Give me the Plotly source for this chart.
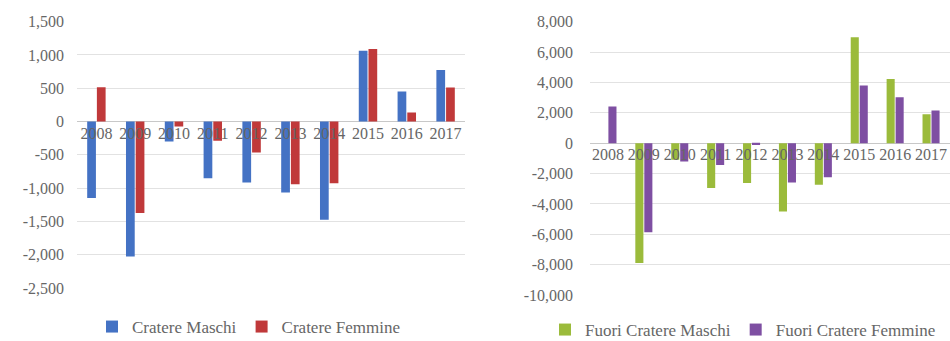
import plotly.graph_objects as go

years = ["2008", "2009", "2010", "2011", "2012", "2013", "2014", "2015", "2016", "2017"]

cratere_maschi = [-1150, -2025, -300, -850, -915, -1065, -1475, 1065, 450, 775]
cratere_femmine = [515, -1375, -75, -290, -465, -940, -925, 1090, 135, 510]

fuori_maschi = [0, -7900, -1100, -2960, -2630, -4500, -2740, 6970, 4230, 1910]
fuori_femmine = [2410, -5860, -1200, -1430, -120, -2590, -2240, 3800, 3030, 2150]

left_ticks = [1500, 1000, 500, 0, -500, -1000, -1500, -2000, -2500]
left_ticktext = ["1,500", "1,000", "500", "0", "-500", "-1,000", "-1,500", "-2,000", "-2,500"]
right_ticks = [8000, 6000, 4000, 2000, 0, -2000, -4000, -6000, -8000, -10000]
right_ticktext = ["8,000", "6,000", "4,000", "2,000", "0", "-2,000", "-4,000", "-6,000", "-8,000", "-10,000"]

W, H = 950, 341
FONT = "Liberation Serif"
TXT = "#666666"

fig = go.Figure()
fig.add_trace(go.Bar(x=years, y=cratere_maschi, name="Cratere Maschi", marker_color="#4472C4",
                     xaxis="x", yaxis="y", legend="legend"))
fig.add_trace(go.Bar(x=years, y=cratere_femmine, name="Cratere Femmine", marker_color="#C0393A",
                     xaxis="x", yaxis="y", legend="legend"))
fig.add_trace(go.Bar(x=years, y=fuori_maschi, name="Fuori Cratere Maschi", marker_color="#9BBB3B",
                     xaxis="x2", yaxis="y2", legend="legend2"))
fig.add_trace(go.Bar(x=years, y=fuori_femmine, name="Fuori Cratere Femmine", marker_color="#7E4FA2",
                     xaxis="x2", yaxis="y2", legend="legend2"))

# left plot geometry (pixels)
lx0, lx1 = 77, 465
ly_top, ly_bot = 21.7, 288
# right plot geometry
rx0, rx1 = 590, 950
r_cat = 35.9
ry_top, ry_bot = 21.7, 295

ldom_y = [1 - ly_bot / H, 1 - ly_top / H]
rdom_y = [1 - ry_bot / H, 1 - ry_top / H]
lzero = ldom_y[0] + (2500 / 4000) * (ldom_y[1] - ldom_y[0])
rzero = rdom_y[0] + (10000 / 18000) * (rdom_y[1] - rdom_y[0])

tickfont_x = dict(family=FONT, size=16, color=TXT)
tickfont_y = dict(family=FONT, size=16, color=TXT)

fig.update_layout(
    template="none",
    width=W, height=H,
    margin=dict(l=0, r=0, t=0, b=0, pad=0, autoexpand=False),
    paper_bgcolor="white", plot_bgcolor="white",
    barmode="group", bargap=0.5, bargroupgap=0.1,
    font=dict(family=FONT, color=TXT),
    xaxis=dict(domain=[lx0 / W, lx1 / W], anchor="free", position=lzero, automargin=False,
               type="category", range=[-0.5, 9.5], showgrid=False,
               showline=False, ticks="", tickfont=tickfont_x, zeroline=False),
    yaxis=dict(domain=ldom_y, anchor="x", range=[-2500, 1500], tickvals=left_ticks, automargin=False,
               ticktext=left_ticktext, showgrid=True, gridcolor="#e2e2e2", gridwidth=1,
               zeroline=True, zerolinecolor="#c8c8c8", zerolinewidth=1,
               showline=False, ticks="", tickfont=tickfont_y, ticklabelstandoff=12),
    xaxis2=dict(domain=[rx0 / W, rx1 / W], anchor="free", position=rzero, automargin=False,
                type="category", range=[-0.5, -0.5 + (rx1 - rx0) / r_cat], showgrid=False,
                showline=False, ticks="", tickfont=tickfont_x, zeroline=False),
    yaxis2=dict(domain=rdom_y, anchor="x2", range=[-10000, 8000], tickvals=right_ticks, automargin=False,
                ticktext=right_ticktext, showgrid=True, gridcolor="#e2e2e2", gridwidth=1,
                zeroline=True, zerolinecolor="#c8c8c8", zerolinewidth=1,
                showline=False, ticks="", tickfont=tickfont_y, ticklabelstandoff=16),
    legend=dict(orientation="h", x=249 / W, xanchor="center", y=1 - 327 / H, yanchor="middle",
                font=dict(family=FONT, size=17, color=TXT), bgcolor="rgba(0,0,0,0)",
                itemwidth=30, traceorder="normal"),
    legend2=dict(orientation="h", x=743 / W, xanchor="center", y=1 - 330 / H, yanchor="middle",
                 font=dict(family=FONT, size=17, color=TXT), bgcolor="rgba(0,0,0,0)",
                 itemwidth=30, traceorder="normal"),
)

fig.write_html("out.html", config={"displayModeBar": False},
               post_script="document.body.style.margin='0px';")
